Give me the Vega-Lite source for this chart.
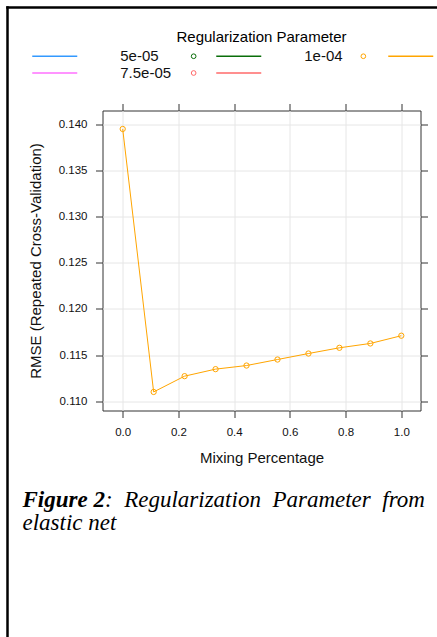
{
  "$schema": "https://vega.github.io/schema/vega-lite/v6.json",
  "autosize": {"type": "none"},
  "width": 318,
  "height": 300,
  "padding": {"left": 102.5, "top": 110.5, "right": 16.5, "bottom": 226.5},
  "background": "white",
  "title": {"text": "Regularization Parameter", "anchor": "middle", "frame": "group", "fontSize": 15, "font": "Liberation Sans", "fontWeight": "normal", "color": "#000", "offset": -38},
  "datasets": {
    "cv": [
      {"lambda": "1e-04", "alpha": 0.0, "rmse": 0.13949},
      {"lambda": "1e-04", "alpha": 0.1111, "rmse": 0.11101},
      {"lambda": "1e-04", "alpha": 0.2222, "rmse": 0.11272},
      {"lambda": "1e-04", "alpha": 0.3333, "rmse": 0.11348},
      {"lambda": "1e-04", "alpha": 0.4444, "rmse": 0.11387},
      {"lambda": "1e-04", "alpha": 0.5556, "rmse": 0.11452},
      {"lambda": "1e-04", "alpha": 0.6667, "rmse": 0.11517},
      {"lambda": "1e-04", "alpha": 0.7778, "rmse": 0.11579},
      {"lambda": "1e-04", "alpha": 0.8889, "rmse": 0.11626},
      {"lambda": "1e-04", "alpha": 1.0, "rmse": 0.1171}
    ]
  },
  "layer": [
    {
      "data": {"name": "cv"},
      "layer": [
        {
          "mark": {"type": "line", "strokeWidth": 1},
          "encoding": {
            "x": {"field": "alpha", "type": "quantitative",
              "scale": {"domain": [-0.0725, 1.0689], "nice": false, "zero": false},
              "axis": {"title": "Mixing Percentage", "values": [0, 0.2, 0.4, 0.6, 0.8, 1.0], "format": ".1f", "grid": true, "gridColor": "#e6e6e6", "domain": false, "tickColor": "#333", "tickSize": 7, "labelFontSize": 11.5, "labelColor": "#111", "labelPadding": 9, "labelFlush": false, "titleFontSize": 15, "titleFontWeight": "normal", "titlePadding": 12, "titleColor": "#111"}},
            "y": {"field": "rmse", "type": "quantitative",
              "scale": {"domain": [0.109, 0.14149], "nice": false, "zero": false},
              "axis": {"title": "RMSE (Repeated Cross-Validation)", "values": [0.11, 0.115, 0.12, 0.125, 0.13, 0.135, 0.14], "format": ".3f", "grid": true, "gridColor": "#e6e6e6", "domain": false, "tickColor": "#333", "tickSize": 7, "labelFontSize": 11.5, "labelColor": "#111", "labelPadding": 8.5, "labelFlush": false, "titleFontSize": 15, "titleFontWeight": "normal", "titlePadding": 15, "titleColor": "#111"}},
            "color": {"field": "lambda", "type": "nominal",
              "scale": {"domain": ["5e-05", "1e-04", "7.5e-05"], "range": ["#0a6e0a", "#ffa500", "#ff6a6a"]}}
          }
        },
        {
          "mark": {"type": "point", "filled": false, "size": 28, "strokeWidth": 1, "shape": "circle", "opacity": 1},
          "encoding": {
            "x": {"field": "alpha", "type": "quantitative"},
            "y": {"field": "rmse", "type": "quantitative"},
            "color": {"field": "lambda", "type": "nominal",
              "legend": {"orient": "none", "legendX": 83.65, "legendY": -62, "title": null, "columns": 2, "direction": "horizontal", "symbolType": "circle", "symbolSize": 22, "symbolStrokeWidth": 1, "clipHeight": 15, "rowPadding": 1, "columnPadding": 154.7, "labelOffset": 0, "labelExpr": "''", "labelFontSize": 15, "padding": 0}}
          }
        },
        {
          "data": {"values": []},
          "mark": {"type": "line"},
          "encoding": {
            "x": {"field": "alpha", "type": "quantitative"},
            "y": {"field": "rmse", "type": "quantitative"},
            "stroke": {"field": "key", "type": "nominal",
              "scale": {"domain": ["k1", "k2", "k3", "k4", "k5"], "range": ["#3399ff", "#0a6e0a", "#ffa500", "#ff70ff", "#ff6a6a"]},
              "legend": {"orient": "none", "legendX": -71.25, "legendY": -62, "title": null, "columns": 3, "direction": "horizontal", "symbolType": "stroke", "symbolSize": 2025, "symbolStrokeWidth": 1.5, "clipHeight": 15, "rowPadding": 1, "columnPadding": 44, "labelOffset": 42, "labelFontSize": 15, "labelFont": "Liberation Sans", "labelColor": "#111", "labelLimit": 200, "padding": 0,
                "labelExpr": "datum.value == 'k1' ? '5e-05' : datum.value == 'k2' ? '1e-04' : datum.value == 'k4' ? '7.5e-05' : ''"}}
          }
        }
      ]
    },
    {
      "data": {"values": []},
      "mark": "point",
      "encoding": {
        "x": {"field": "alpha", "type": "quantitative",
          "scale": {"domain": [-0.0725, 1.0689], "nice": false, "zero": false},
          "axis": {"orient": "top", "values": [0, 0.2, 0.4, 0.6, 0.8, 1.0], "labels": false, "ticks": true, "tickSize": 7, "tickColor": "#333", "domain": false, "grid": false,
            "title": "Figure 2", "titleFont": "Liberation Serif", "titleFontStyle": "italic", "titleFontWeight": "bold", "titleFontSize": 23, "titleColor": "#000", "titleAngle": 0, "titleAlign": "left", "titleBaseline": "alphabetic", "titleX": -80.5, "titleY": 395.5}},
        "y": {"field": "rmse", "type": "quantitative",
          "scale": {"domain": [0.109, 0.14149], "nice": false, "zero": false},
          "axis": {"orient": "right", "values": [0.11, 0.115, 0.12, 0.125, 0.13, 0.135, 0.14], "labels": false, "ticks": true, "tickSize": 7, "tickColor": "#333", "domain": false, "grid": false,
            "title": ":\u00a0\u00a0Regularization\u00a0\u00a0Parameter\u00a0\u00a0from", "titleFont": "Liberation Serif", "titleFontStyle": "italic", "titleFontWeight": "normal", "titleFontSize": 23, "titleColor": "#000", "titleAngle": 0, "titleAlign": "left", "titleBaseline": "alphabetic", "titleX": -316, "titleY": 395.5}}
      }
    },
    {
      "data": {"values": []},
      "mark": "point",
      "encoding": {
        "x": {"field": "fx", "type": "quantitative",
          "scale": {"domain": [0, 1], "range": [-95.5, 334.5], "nice": false, "zero": false},
          "axis": {"orient": "top", "offset": 103.5, "domain": true, "domainColor": "#000", "domainWidth": 2.5, "domainCap": "square", "ticks": false, "labels": false, "grid": false, "title": null}},
        "y": {"field": "fy", "type": "quantitative",
          "scale": {"domain": [0, 1], "range": [526.5, -103.5], "nice": false, "zero": false},
          "axis": {"orient": "left", "offset": 95.5, "domain": true, "domainColor": "#000", "domainWidth": 2.5, "domainCap": "square", "ticks": false, "labels": false, "grid": false,
            "title": "elastic net", "titleFont": "Liberation Serif", "titleFontStyle": "italic", "titleFontWeight": "normal", "titleFontSize": 23, "titleColor": "#000", "titleAngle": 0, "titleAlign": "left", "titleBaseline": "alphabetic", "titleX": 15, "titleY": 419}}
      }
    }
  ],
  "resolve": {"scale": {"x": "independent", "y": "independent"}, "axis": {"x": "independent", "y": "independent"}},
  "config": {
    "font": "Liberation Sans",
    "axis": {"labelFont": "Liberation Sans", "titleFont": "Liberation Sans"},
    "legend": {"labelFont": "Liberation Sans"},
    "view": {"stroke": "#333", "strokeWidth": 1}
  }
}
